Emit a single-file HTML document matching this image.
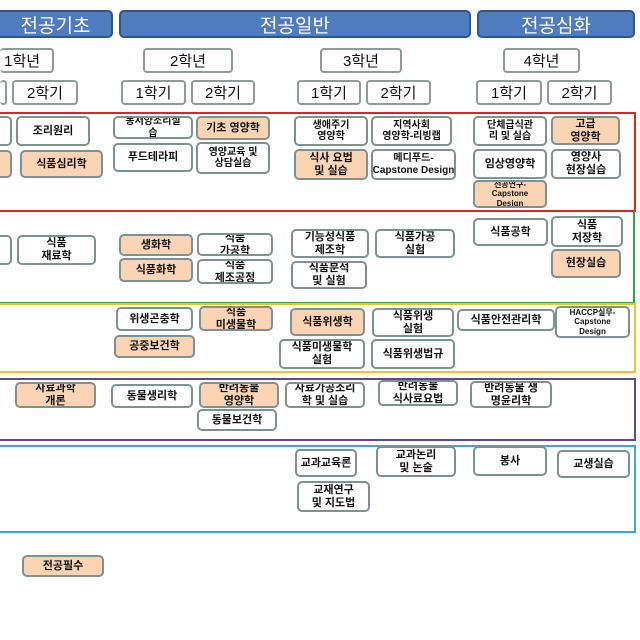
<!DOCTYPE html>
<html><head><meta charset="utf-8"><style>
html,body{margin:0;padding:0;}
body{width:640px;height:640px;background:#fff;overflow:hidden;font-family:"Liberation Sans","Noto Sans CJK KR","NanumGothic",sans-serif;}
#w{position:relative;width:640px;height:640px;overflow:hidden;}
.a{position:absolute;box-sizing:border-box;}
.h{background:#4f7cbf;border:2px solid #2f5789;border-radius:5px;color:#fff;font-size:19px;display:flex;align-items:center;justify-content:center;}
.y{border:2px solid #8f9a9a;border-radius:4px;background:#fff;font-size:15px;display:flex;align-items:center;justify-content:center;color:#111;}
.b{border:2px solid #7d9293;border-radius:5px;background:#fff;font-size:11px;font-weight:bold;display:flex;align-items:center;justify-content:center;text-align:center;line-height:1.15;color:#111;white-space:nowrap;overflow:hidden;}
.o{background:#fbd4b4;}
.s{font-size:8px;}
.t{font-size:10px;}
.g{border:2px solid;}
</style></head><body><div id="w">
<div class="a h" style="left:0;top:10px;width:113px;height:28px;border-left:none;border-radius:0 5px 5px 0">전공기초</div>
<div class="a h" style="left:119px;top:10px;width:352px;height:28px">전공일반</div>
<div class="a h" style="left:477px;top:10px;width:158px;height:28px">전공심화</div>

<div class="a y" style="left:0;top:48px;width:54px;height:25px;border-left:none;justify-content:flex-start;padding-left:0">&nbsp;1학년</div>
<div class="a y" style="left:143px;top:48px;width:90px;height:25px">2학년</div>
<div class="a y" style="left:320px;top:48px;width:82px;height:25px">3학년</div>
<div class="a y" style="left:503px;top:48px;width:77px;height:25px">4학년</div>

<div class="a y" style="left:0;top:80px;width:7px;height:25px;border-left:none"></div>
<div class="a y" style="left:12px;top:80px;width:66px;height:25px">2학기</div>
<div class="a y" style="left:121px;top:80px;width:65px;height:25px">1학기</div>
<div class="a y" style="left:191px;top:80px;width:64px;height:25px">2학기</div>
<div class="a y" style="left:297px;top:80px;width:64px;height:25px">1학기</div>
<div class="a y" style="left:366px;top:80px;width:65px;height:25px">2학기</div>
<div class="a y" style="left:476px;top:80px;width:66px;height:25px">1학기</div>
<div class="a y" style="left:547px;top:80px;width:65px;height:25px">2학기</div>

<div class="a g" style="left:0;top:112px;width:636px;height:100px;border-color:#d9262b;border-left:none"></div>
<div class="a g" style="left:0;top:211px;width:635px;height:93px;border-color:#2fa548;border-top:none;border-left:none"></div>
<div class="a g" style="left:0;top:303px;width:636px;height:70px;border-color:#f0c22d;border-left:none"></div>
<div class="a g" style="left:0;top:378px;width:636px;height:63px;border-color:#5e4a86;border-left:none"></div>
<div class="a g" style="left:0;top:445px;width:636px;height:88px;border-color:#3aa8d8;border-left:none"></div>

<!-- red -->
<div class="a b" style="left:0;top:116px;width:12px;height:30px;border-left:none;border-radius:0 5px 5px 0"></div>
<div class="a b" style="left:16px;top:116px;width:74px;height:30px">조리원리</div>
<div class="a b o" style="left:0;top:150px;width:12px;height:28px;border-left:none;border-radius:0 5px 5px 0"></div>
<div class="a b o" style="left:20px;top:150px;width:83px;height:28px">식품심리학</div>
<div class="a b t" style="left:113px;top:116px;width:80px;height:23px">동서양조리실<br>습</div>
<div class="a b o" style="left:196px;top:116px;width:74px;height:24px">기초 영양학</div>
<div class="a b" style="left:113px;top:143px;width:80px;height:29px">푸드테라피</div>
<div class="a b t" style="left:196px;top:142px;width:74px;height:32px">영양교육 및<br>상담실습</div>
<div class="a b t" style="left:294px;top:116px;width:74px;height:30px">생애주기<br>영양학</div>
<div class="a b t" style="left:371px;top:116px;width:81px;height:30px">지역사회<br>영양학-리빙랩</div>
<div class="a b o" style="left:294px;top:149px;width:74px;height:31px">식사 요법<br>및 실습</div>
<div class="a b t" style="left:371px;top:149px;width:85px;height:31px">메디푸드-<br>Capstone Design</div>
<div class="a b t" style="left:473px;top:116px;width:74px;height:30px">단체급식관<br>리 및 실습</div>
<div class="a b o" style="left:551px;top:116px;width:69px;height:29px">고급<br>영양학</div>
<div class="a b" style="left:473px;top:149px;width:74px;height:30px">임상영양학</div>
<div class="a b" style="left:551px;top:149px;width:70px;height:30px">영양사<br>현장실습</div>
<div class="a b o s" style="left:473px;top:180px;width:74px;height:28px">전공연구-<br>Capstone<br>Design</div>

<!-- green -->
<div class="a b" style="left:0;top:235px;width:12px;height:30px;border-left:none;border-radius:0 5px 5px 0"></div>
<div class="a b" style="left:17px;top:235px;width:79px;height:30px">식품<br>재료학</div>
<div class="a b o" style="left:119px;top:234px;width:74px;height:22px">생화학</div>
<div class="a b o" style="left:119px;top:258px;width:74px;height:24px">식품화학</div>
<div class="a b" style="left:197px;top:233px;width:76px;height:23px">식품<br>가공학</div>
<div class="a b" style="left:197px;top:259px;width:76px;height:25px">식품<br>제조공정</div>
<div class="a b" style="left:291px;top:229px;width:78px;height:29px">기능성식품<br>제조학</div>
<div class="a b" style="left:291px;top:261px;width:76px;height:28px">식품분석<br>및 실험</div>
<div class="a b" style="left:375px;top:229px;width:80px;height:29px">식품가공<br>실험</div>
<div class="a b" style="left:473px;top:218px;width:75px;height:28px">식품공학</div>
<div class="a b" style="left:551px;top:216px;width:72px;height:31px">식품<br>저장학</div>
<div class="a b o" style="left:551px;top:249px;width:70px;height:29px">현장실습</div>

<!-- yellow -->
<div class="a b" style="left:116px;top:307px;width:77px;height:24px">위생곤충학</div>
<div class="a b o" style="left:199px;top:306px;width:74px;height:25px">식품<br>미생물학</div>
<div class="a b o" style="left:114px;top:335px;width:81px;height:23px">공중보건학</div>
<div class="a b o" style="left:290px;top:308px;width:75px;height:28px">식품위생학</div>
<div class="a b" style="left:279px;top:339px;width:86px;height:30px">식품미생물학<br>실험</div>
<div class="a b" style="left:372px;top:308px;width:82px;height:29px">식품위생<br>실험</div>
<div class="a b" style="left:371px;top:339px;width:84px;height:30px">식품위생법규</div>
<div class="a b" style="left:457px;top:309px;width:98px;height:22px">식품안전관리학</div>
<div class="a b s" style="left:555px;top:306px;width:75px;height:32px">HACCP실무-<br>Capstone<br>Design</div>

<!-- purple -->
<div class="a b o" style="left:15px;top:382px;width:81px;height:26px">사료과학<br>개론</div>
<div class="a b" style="left:111px;top:384px;width:82px;height:24px">동물생리학</div>
<div class="a b o" style="left:199px;top:382px;width:80px;height:26px">반려동물<br>영양학</div>
<div class="a b" style="left:197px;top:409px;width:80px;height:22px">동물보건학</div>
<div class="a b" style="left:285px;top:382px;width:80px;height:26px">사료가공조리<br>학 및 실습</div>
<div class="a b" style="left:378px;top:380px;width:80px;height:26px">반려동물<br>식사료요법</div>
<div class="a b" style="left:470px;top:381px;width:82px;height:27px">반려동물 생<br>명윤리학</div>

<!-- cyan -->
<div class="a b" style="left:295px;top:449px;width:62px;height:28px">교과교육론</div>
<div class="a b" style="left:376px;top:446px;width:80px;height:31px">교과논리<br>및 논술</div>
<div class="a b" style="left:473px;top:446px;width:74px;height:30px">봉사</div>
<div class="a b" style="left:557px;top:450px;width:73px;height:28px">교생실습</div>
<div class="a b" style="left:297px;top:481px;width:73px;height:31px">교재연구<br>및 지도법</div>

<div class="a b o" style="left:22px;top:555px;width:82px;height:22px">전공필수</div>
</div></body></html>
